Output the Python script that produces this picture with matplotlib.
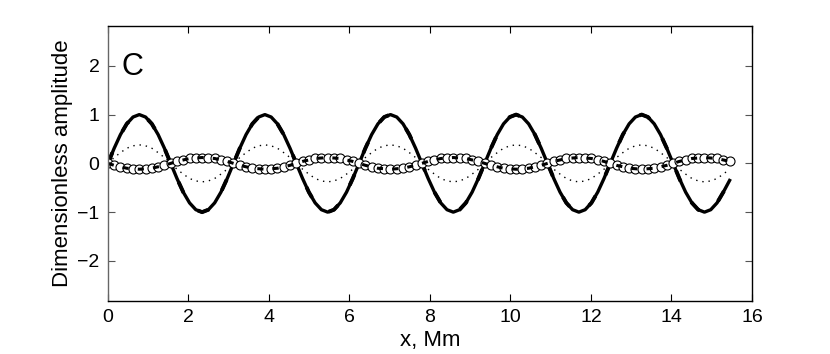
import numpy as np
import matplotlib
matplotlib.use("Agg")
import matplotlib.pyplot as plt

plt.rcParams['font.family'] = ['Liberation Sans', 'DejaVu Sans']

# sample spacing along x (Mm)
dx = 0.156

# thick solid curve, one row per wave period
amp_solid = [
    0.00, 0.31, 0.59, 0.81, 0.95, 1.00, 0.95, 0.81, 0.59, 0.31, 0.00, -0.31, -0.59, -0.81, -0.95, -1.00, -0.95, -0.81, -0.59, -0.31,
    0.00, 0.31, 0.59, 0.81, 0.95, 1.00, 0.95, 0.81, 0.59, 0.31, 0.00, -0.31, -0.59, -0.81, -0.95, -1.00, -0.95, -0.81, -0.59, -0.31,
    0.00, 0.31, 0.59, 0.81, 0.95, 1.00, 0.95, 0.81, 0.59, 0.31, 0.00, -0.31, -0.59, -0.81, -0.95, -1.00, -0.95, -0.81, -0.59, -0.31,
    0.00, 0.31, 0.59, 0.81, 0.95, 1.00, 0.95, 0.81, 0.59, 0.31, 0.00, -0.31, -0.59, -0.81, -0.95, -1.00, -0.95, -0.81, -0.59, -0.31,
    0.00, 0.31, 0.59, 0.81, 0.95, 1.00, 0.95, 0.81, 0.59, 0.31, 0.00, -0.31, -0.59, -0.81, -0.95, -1.00, -0.95, -0.81, -0.59, -0.35,
]

# dotted curve
amp_dotted = [
    0.00, 0.12, 0.22, 0.31, 0.36, 0.38, 0.36, 0.31, 0.22, 0.12, 0.00, -0.12, -0.22, -0.31, -0.36, -0.38, -0.36, -0.31, -0.22, -0.12,
    0.00, 0.12, 0.22, 0.31, 0.36, 0.38, 0.36, 0.31, 0.22, 0.12, 0.00, -0.12, -0.22, -0.31, -0.36, -0.38, -0.36, -0.31, -0.22, -0.12,
    0.00, 0.12, 0.22, 0.31, 0.36, 0.38, 0.36, 0.31, 0.22, 0.12, 0.00, -0.12, -0.22, -0.31, -0.36, -0.38, -0.36, -0.31, -0.22, -0.12,
    0.00, 0.12, 0.22, 0.31, 0.36, 0.38, 0.36, 0.31, 0.22, 0.12, 0.00, -0.12, -0.22, -0.31, -0.36, -0.38, -0.36, -0.31, -0.22, -0.12,
    0.00, 0.12, 0.22, 0.31, 0.36, 0.38, 0.36, 0.31, 0.22, 0.12, 0.00, -0.12, -0.22, -0.31, -0.36, -0.38, -0.36, -0.31, -0.22, -0.12,
]

# small curve with circles (and dashes)
amp_circ = [
    0.00, -0.04, -0.07, -0.10, -0.11, -0.12, -0.11, -0.10, -0.07, -0.04, 0.00, 0.04, 0.07, 0.10, 0.11, 0.12, 0.11, 0.10, 0.07, 0.04,
    0.00, -0.04, -0.07, -0.10, -0.11, -0.12, -0.11, -0.10, -0.07, -0.04, 0.00, 0.04, 0.07, 0.10, 0.11, 0.12, 0.11, 0.10, 0.07, 0.04,
    0.00, -0.04, -0.07, -0.10, -0.11, -0.12, -0.11, -0.10, -0.07, -0.04, 0.00, 0.04, 0.07, 0.10, 0.11, 0.12, 0.11, 0.10, 0.07, 0.04,
    0.00, -0.04, -0.07, -0.10, -0.11, -0.12, -0.11, -0.10, -0.07, -0.04, 0.00, 0.04, 0.07, 0.10, 0.11, 0.12, 0.11, 0.10, 0.07, 0.04,
    0.00, -0.04, -0.07, -0.10, -0.11, -0.12, -0.11, -0.10, -0.07, -0.04, 0.00, 0.04, 0.07, 0.10, 0.11, 0.12, 0.11, 0.10, 0.07, 0.04,
]

x = np.arange(len(amp_solid)) * dx

fig = plt.figure(figsize=(8.3, 3.54), dpi=100)
ax = fig.add_axes([0.130, 0.150, 0.776, 0.777])

ax.plot(x, amp_solid, color='black', lw=2.4)
ax.plot(x, amp_solid, color='black', lw=2.8, ls=(0, (3, 6)))
ax.plot(x, amp_dotted, color='black', lw=1.0, ls=(0, (1, 3.5)))
ax.plot(x, amp_circ, color='black', lw=0.8, marker='o', markersize=6.5,
        markerfacecolor='white', markeredgecolor='black', markeredgewidth=0.8)
ax.plot(x, amp_circ, color='black', lw=2.2, ls=(0, (2, 3)))

ax.text(0.35, 1.98, 'C', fontsize=22, ha='left', va='center')

ax.set_xlim(0, 16)
ax.set_ylim(-2.82, 2.82)
ax.set_xticks(range(0, 17, 2))
ax.set_yticks([-2, -1, 0, 1, 2])
ax.set_yticklabels(['\u22122', '\u22121', '0', '1', '2'])
ax.tick_params(direction='in', length=5, width=0.8, labelsize=14,
               top=True, right=True, pad=6, colors='black')
ax.tick_params(axis='y', colors='#555555', labelcolor='black')
for s in ax.spines.values():
    s.set_linewidth(1.0)
ax.spines['left'].set_color('#666666')

ax.set_xlabel('x, Mm', fontsize=16, labelpad=3)
ax.set_ylabel('Dimensionless amplitude', fontsize=16, labelpad=3)

fig.savefig('out.png', dpi=100)
